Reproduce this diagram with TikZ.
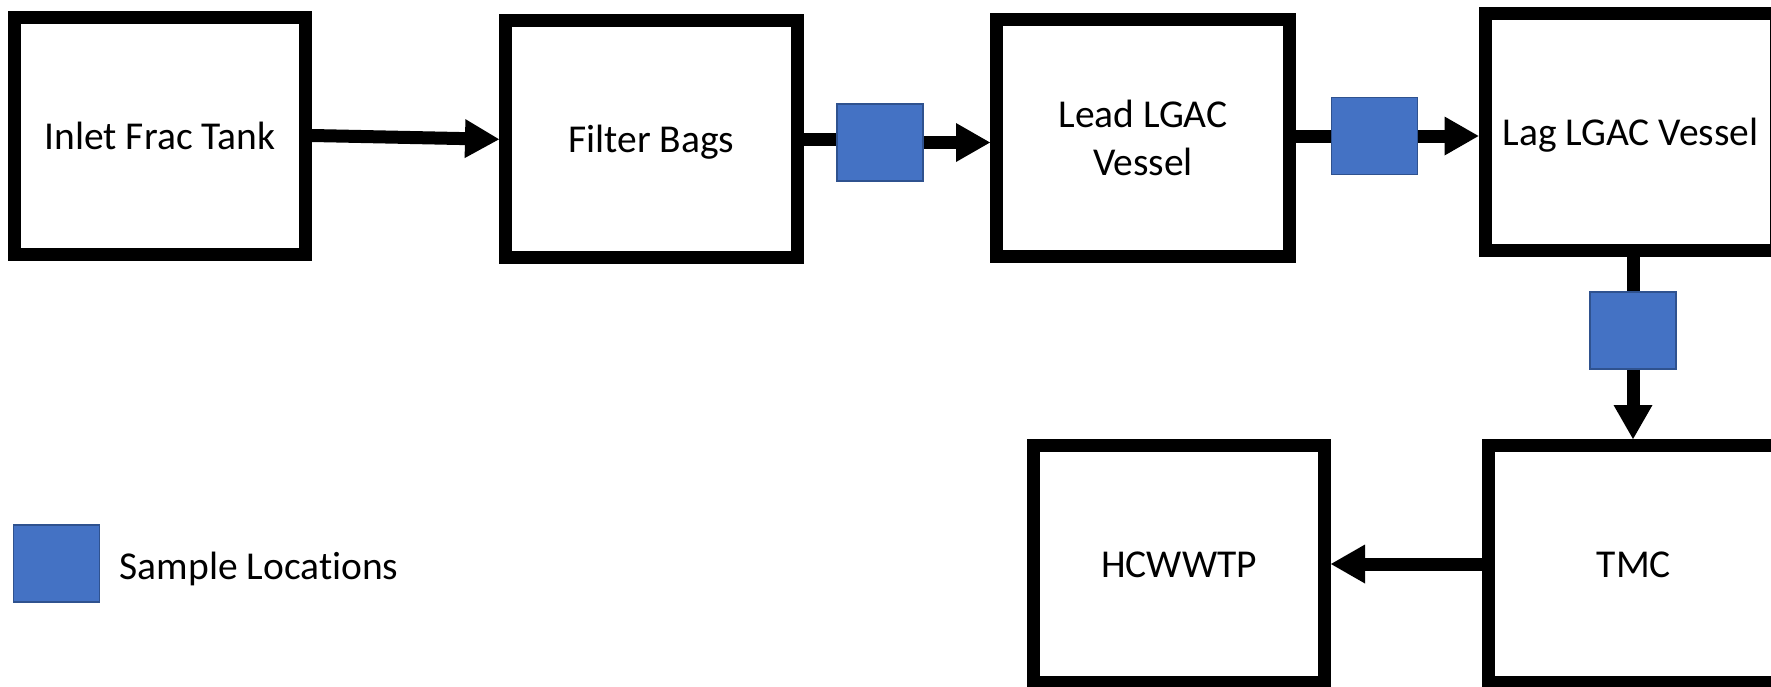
\documentclass[tikz,border=0pt]{standalone}
\usepackage{fontspec}
\setmainfont{Carlito}[Ligatures=NoCommon]
\usetikzlibrary{arrows.meta}

\definecolor{sampleblue}{HTML}{4472C4}
\definecolor{sampleedge}{HTML}{2F528F}

\tikzset{
  unit/.style={draw=black, line width=13pt, fill=white, inner sep=0pt,
    minimum width=291pt, minimum height=237pt, align=center},
  oneline/.style={text height=27pt, text depth=0pt},
  sample/.style={draw=sampleedge, line width=1.6pt, fill=sampleblue,
    inner sep=0pt, minimum width=86pt, minimum height=77pt},
  pipe/.style={draw=black, line width=13pt},
  flow/.style={pipe, -{Triangle[length=34pt, width=39pt, line width=0pt]}},
}

\begin{document}
\begin{tikzpicture}[x=1pt, y=-1pt, font=\fontsize{39.5}{48.2}\selectfont]
  \useasboundingbox (0,0) rectangle (1771,686);
  \fill[white] (0,0) rectangle (1771,686);
  \clip (0,0) rectangle (1771,686);

  % process units
  \node[unit, oneline] (tank) at (160,135.5) {Inlet Frac Tank};
  \node[unit, oneline, minimum width=292pt] (bags) at (651.5,139.3) {Filter Bags};
  \node[unit, minimum width=293pt] (lead) at (1143,137.7) {Lead LGAC\\Vessel};
  \node[unit, oneline] (lag) at (1630.5,131.7) {Lag LGAC Vessel};
  \node[unit, oneline] (tmc) at (1634,564) {TMC};
  \node[unit, oneline] (plant) at (1179,564) {HCWWTP};

  % sample points on the lines
  \node[sample] (s1) at (880,142.5) {};
  \node[sample] (s2) at (1374.5,136) {};
  \node[sample] (s3) at (1633,330.5) {};

  % flow lines
  \draw[flow] (tank.east) -- (bags.west);
  \draw[pipe] (bags.east) -- (bags.east -| s1.west);
  \draw[flow] (s1.east) -- (s1.east -| lead.west);
  \draw[pipe] (lead.east |- s2.west) -- (s2.west);
  \draw[flow] (s2.east) -- (s2.east -| lag.west);
  \draw[pipe] (lag.south -| s3.north) -- (s3.north);
  \draw[flow] (s3.south) -- (s3.south |- tmc.north);
  \draw[flow] (tmc.west) -- (plant.east);

  % legend
  \node[sample] (key) at (56.3,563.7) {};
  \node[anchor=base west, inner sep=0pt] (keytext) at (119.5,579) {Sample Locations};
\end{tikzpicture}
\end{document}
